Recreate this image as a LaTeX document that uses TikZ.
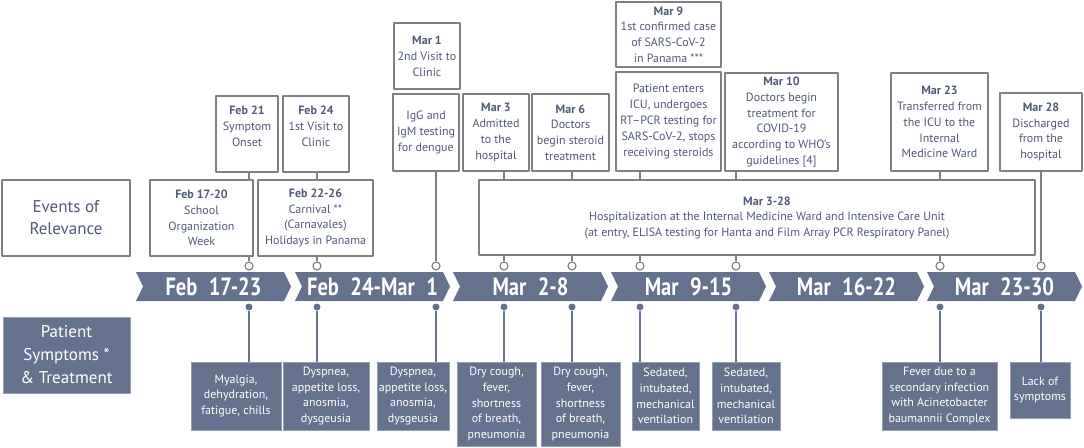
\documentclass[tikz,border=0pt]{standalone}
\usepackage{fontspec}
\setmainfont{PT Sans}
\definecolor{slate}{RGB}{101,114,142}
\definecolor{txtblue}{RGB}{78,90,120}
\definecolor{boxgray}{RGB}{128,128,128}
\definecolor{edgegray}{RGB}{150,158,176}
\tikzset{
  evbox/.style={draw=boxgray, line width=1.2pt, fill=white, text=txtblue, align=center, inner sep=1pt, font=\fontsize{12}{15.8}\selectfont},
  sybox/.style={draw=edgegray, line width=0.8pt, fill=slate, text=white, align=center, inner sep=1pt, font=\fontsize{12}{15.8}\selectfont},
  topstem/.style={draw=boxgray, line width=2.4pt},
  botstem/.style={draw=slate, line width=2.4pt},
  ocirc/.style={circle, draw=boxgray, fill=white, line width=1.2pt, minimum size=8pt, inner sep=0pt},
  fcirc/.style={circle, fill=slate, minimum size=7pt, inner sep=0pt},
  weeklab/.style={text=white, font=\fontsize{25}{25}\selectfont\bfseries}
}
\begin{document}
\begin{tikzpicture}[x=1pt, y=-1pt, line join=round]
		\useasboundingbox (0,0) rectangle (1084,447);
		% week band
		\foreach \xl/\lab in {136/{Feb\hspace{14pt}17-23}, 295/{Feb\hspace{14pt}24-Mar\hspace{14pt}1}, 453/{Mar\hspace{14pt}2-8}, 611/{Mar\hspace{14pt}9-15}, 769/{Mar\hspace{14pt}16-22}, 927/{Mar\hspace{14pt}23-30}}{
			\fill[slate] (\xl,272) -- ++(148,0) -- ++(7,14.5) -- ++(-7,14.5) -- ++(-148,0) -- ++(7,-14.5) -- cycle;
			\node[weeklab] at (\xl+77.5,286.5) {\scalebox{0.82}[1]{\lab}};
		}
		\foreach \x [count=\i] in {249,317,436,504,572,640,736,940,1041}{
			\node[ocirc] (o\i) at (\x,266) {};
			\node[fcirc] (d\i) at (\x,307) {};
		}
		% events of relevance
		\node[evbox, font=\fontsize{17}{22}\selectfont, minimum width=128pt, minimum height=76pt] (evt) at (66,218) {Events of\\Relevance};
		\node[evbox, minimum width=103pt, minimum height=76pt] (f1720) at (201.5,218) {\textbf{Feb 17-20}\\School\\Organization\\Week};
		\node[evbox, minimum width=115pt, minimum height=76pt] (f2226) at (315.5,218) {\textbf{Feb 22-26}\\Carnival **\\(Carnavales)\\Holidays in Panama};
		\node[evbox, minimum width=62pt, minimum height=76pt] (f21) at (247,134) {\textbf{Feb 21}\\Symptom\\Onset\\\mbox{}};
		\node[evbox, minimum width=66pt, minimum height=76pt] (f24) at (316,134) {\textbf{Feb 24}\\1st Visit to\\Clinic\\\mbox{}};
		\node[evbox, minimum width=66pt, minimum height=66pt] (m1) at (427,56) {\textbf{Mar 1}\\2nd Visit to\\Clinic};
		\node[evbox, minimum width=66pt, minimum height=77pt] (igg) at (426,132.5) {IgG and\\IgM testing\\for dengue};
		\node[evbox, minimum width=66pt, minimum height=77pt] (m3) at (496,132.5) {\textbf{Mar 3}\\Admitted\\to the\\hospital};
		\node[evbox, minimum width=77pt, minimum height=77pt] (m6) at (570.5,132.5) {\textbf{Mar 6}\\Doctors\\begin steroid\\treatment};
		\node[evbox, minimum width=105pt, minimum height=65pt] (m9) at (668.5,34.5) {\textbf{Mar 9}\\1st confirmed case\\of SARS-CoV-2\\in Panama ***};
		\node[evbox, minimum width=105pt, minimum height=99pt] (icu) at (668.5,121.5) {Patient enters\\ICU, undergoes\\RT–PCR testing for\\SARS-CoV-2, stops\\receiving steroids};
		\node[evbox, minimum width=113pt, minimum height=98pt] (m10) at (781.5,122) {\textbf{Mar 10}\\Doctors begin\\treatment for\\COVID-19\\according to WHO’s\\guidelines [4]};
		\node[evbox, minimum width=97pt, minimum height=98pt] (m23) at (939.5,122) {\textbf{Mar 23}\\Transferred from\\the ICU to the\\Internal\\Medicine Ward};
		\node[evbox, minimum width=82pt, minimum height=78pt] (m28) at (1041,132) {\textbf{Mar 28}\\Discharged\\from the\\hospital};
		\node[evbox, minimum width=556pt, minimum height=75pt] (hosp) at (757,217.5) {};
		\node[text=txtblue, align=center, font=\fontsize{12}{15.8}\selectfont] (hosptxt) at (767,218) {\textbf{Mar 3-28}\\Hospitalization at the Internal Medicine Ward and Intensive Care Unit\\(at entry, ELISA testing for Hanta and Film Array PCR Respiratory Panel)};
		% stems to the band
		\draw[topstem] (o1 |- f21.south) -- (o1 |- f1720.north) (o1 |- f1720.south) -- (o1);
		\draw[topstem] (o2 |- f24.south) -- (o2 |- f2226.north) (o2 |- f2226.south) -- (o2);
		\draw[topstem] (o3 |- igg.south) -- (o3);
		\draw[topstem] (o4 |- m3.south) -- (o4 |- hosp.north) (o4 |- hosp.south) -- (o4);
		\draw[topstem] (o5 |- m6.south) -- (o5 |- hosp.north) (o5 |- hosp.south) -- (o5);
		\draw[topstem] (o6 |- icu.south) -- (o6 |- hosp.north) (o6 |- hosp.south) -- (o6);
		\draw[topstem] (o7 |- m10.south) -- (o7 |- hosp.north) (o7 |- hosp.south) -- (o7);
		\draw[topstem] (o8 |- m23.south) -- (o8 |- hosp.north) (o8 |- hosp.south) -- (o8);
		\draw[topstem] (o9 |- m28.south) -- (o9);
		% symptoms and treatment
		\node[sybox, font=\fontsize{17}{23}\selectfont, minimum width=127pt, minimum height=76pt] (sym) at (66.5,355) {Patient\\Symptoms *\\\& Treatment};
		\node[sybox, minimum width=90pt, minimum height=68pt] (b1) at (236,396) {Myalgia,\\dehydration,\\fatigue, chills};
		\node[sybox, minimum width=86pt, minimum height=68pt] (b2) at (326,396) {Dyspnea,\\appetite loss,\\anosmia,\\dysgeusia};
		\node[sybox, minimum width=72pt, minimum height=68pt] (b3) at (413,396) {Dyspnea,\\appetite loss,\\anosmia,\\dysgeusia};
		\node[sybox, minimum width=79pt, minimum height=84pt] (b4) at (496.5,404) {Dry cough,\\fever,\\shortness\\of breath,\\pneumonia};
		\node[sybox, minimum width=79pt, minimum height=84pt] (b5) at (580.5,404) {Dry cough,\\fever,\\shortness\\of breath,\\pneumonia};
		\node[sybox, minimum width=67pt, minimum height=68pt] (b6) at (665.5,396) {Sedated,\\intubated,\\mechanical\\ventilation};
		\node[sybox, minimum width=68pt, minimum height=68pt] (b7) at (746,396) {Sedated,\\intubated,\\mechanical\\ventilation};
		\node[sybox, minimum width=115pt, minimum height=68pt] (b8) at (939.5,396) {Fever due to a\\secondary infection\\with Acinetobacter\\baumannii Complex};
		\node[sybox, minimum width=60pt, minimum height=56pt] (b9) at (1040,390) {Lack of\\symptoms};
		\foreach \i in {1,...,9}
			\draw[botstem] (d\i) -- (d\i |- b\i.north);
\end{tikzpicture}
\end{document}
